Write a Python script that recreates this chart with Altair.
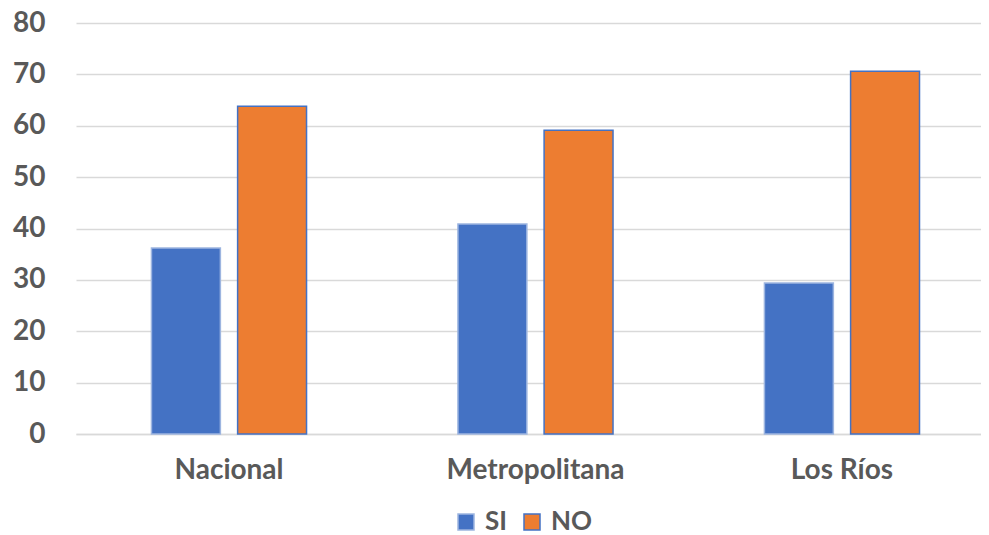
import altair as alt
import pandas as pd

categories = ["Nacional", "Metropolitana", "Los Ríos"]
series = ["SI", "NO"]
si_values = [36.2, 40.9, 29.4]
no_values = [63.8, 59.1, 70.6]

rows = []
for c, s_v, n_v in zip(categories, si_values, no_values):
    rows.append({"region": c, "serie": "SI", "valor": s_v})
    rows.append({"region": c, "serie": "NO", "valor": n_v})
df = pd.DataFrame(rows)

FONT = "Lato"
TXT = "#595959"

chart = alt.Chart(df).mark_bar(strokeWidth=1.5).encode(
    x=alt.X("region:N", sort=categories, title=None,
            scale=alt.Scale(paddingInner=0.494, paddingOuter=0.2234, align=0.551),
            axis=alt.Axis(labelAngle=0, labelFontSize=28, labelFont=FONT,
                          labelFontWeight="bold", labelColor=TXT, ticks=False,
                          domainColor="#D9D9D9", domainWidth=1.5, labelPadding=22)),
    xOffset=alt.XOffset("serie:N", sort=series,
                        scale=alt.Scale(paddingInner=0.2, paddingOuter=0)),
    y=alt.Y("valor:Q", title=None,
            scale=alt.Scale(domain=[0, 80]),
            axis=alt.Axis(values=list(range(0, 81, 10)), labelFontSize=28, labelFont=FONT,
                          labelFontWeight="bold", labelColor=TXT, ticks=False, domain=False,
                          gridColor="#D9D9D9", gridWidth=1.5, labelPadding=31)),
    color=alt.Color("serie:N", sort=series,
                    scale=alt.Scale(domain=series, range=["#4472C4", "#ED7D31"]),
                    legend=alt.Legend(title=None, orient="none", direction="horizontal",
                                      legendX=377, legendY=486,
                                      symbolType="square", symbolSize=256, labelFontSize=26,
                                      labelFont=FONT, labelFontWeight="bold", labelColor=TXT,
                                      columnPadding=12, labelOffset=6, symbolStrokeWidth=1.5)),
    stroke=alt.Stroke("serie:N", sort=series,
                      scale=alt.Scale(domain=series, range=["#9DB5E0", "#4472C4"]),
                      legend=None),
).properties(
    width=905, height=411,
    padding={"left": 4, "top": 1, "right": 0, "bottom": 0},
).configure_view(stroke=None)

chart.save("out.html", embed_options={"renderer": "svg", "actions": False})
